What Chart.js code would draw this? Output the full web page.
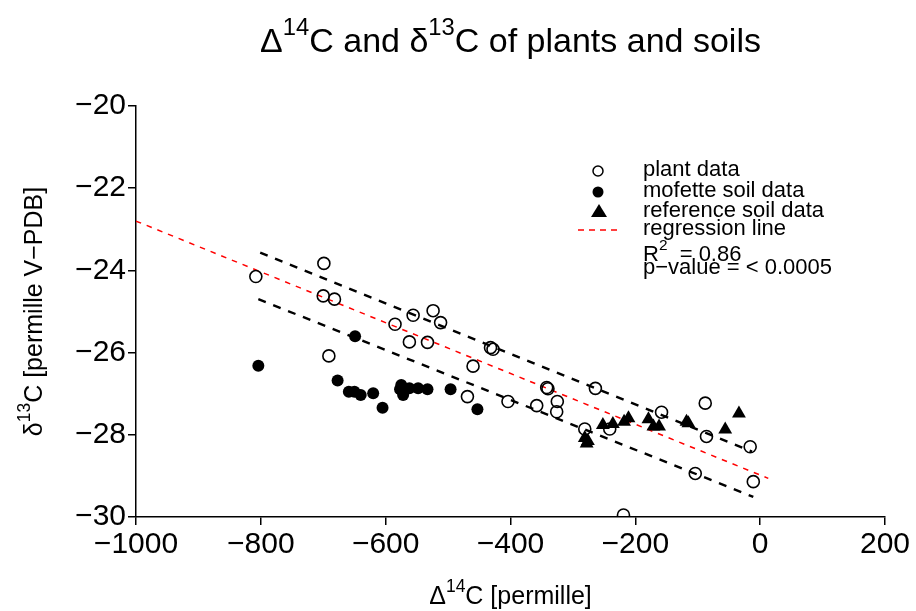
<!DOCTYPE html>
<html>
<head>
<meta charset="utf-8">
<script src="https://cdn.jsdelivr.net/npm/chart.js@4.4.0/dist/chart.umd.min.js"></script>
<style>
  html, body { margin: 0; padding: 0; background: #fff; }
</style>
</head>
<body>
<canvas id="c13Chart" width="916" height="611"></canvas>
<script>
// plant data (open circles)
const plantX = [-808, -699, -700, -682, -691, -585, -556, -524, -512, -562, -533, -432, -428, -460, -469,
                -404, -358, -342, -340, -325, -326, -264, -281, -241, -158, -88, -86, -16, -104, -11, -219];
const plantY = [-24.15, -23.83, -24.62, -24.70, -26.08, -25.31, -25.09, -24.98, -25.27, -25.74, -25.75, -25.88, -25.92, -26.33, -27.07,
                -27.19, -27.29, -26.85, -26.88, -27.19, -27.44, -26.87, -27.86, -27.86, -27.45, -27.23, -28.04, -28.29, -28.94, -29.14, -29.95];

// mofette soil data (filled circles)
const mofetteX = [-804, -649, -677, -659, -650, -640, -620, -605, -575, -577, -572, -562, -548, -533, -496, -453];
const mofetteY = [-26.32, -25.60, -26.68, -26.95, -26.95, -27.03, -26.99, -27.34, -26.79, -26.89, -27.03, -26.87, -26.87, -26.89, -26.89, -27.38];

// reference soil data (triangles)
const refX = [-281, -278, -276, -252, -236, -218, -211, -179, -171, -162, -118, -115, -56, -34];
const refY = [-28.08, -28.21, -28.15, -27.76, -27.74, -27.68, -27.60, -27.62, -27.80, -27.80, -27.68, -27.72, -27.87, -27.48];

// regression line and the two dashed bands (end points)
const regX = [-1000, 13];
const regY = [-22.80, -29.06];
const upperX = [-801, -13];
const upperY = [-23.57, -28.41];
const lowerX = [-804, -11];
const lowerY = [-24.70, -29.51];

const xTicks = [-1000, -800, -600, -400, -200, 0, 200];
const yTicks = [-30, -28, -26, -24, -22, -20];

const FONT = '"Liberation Sans", Arial, Helvetica, sans-serif';

const toPts = (xs, ys) => xs.map((x, i) => ({x: x, y: ys[i]}));
const minus = v => String(v).replace('-', '\u2212');

// text with superscripts: parts = [[text, isSup], ...]
function richText(ctx, parts, size) {
    let w = 0;
    parts.forEach(p => {
        ctx.font = (p[1] ? size * 0.7 : size) + 'px ' + FONT;
        w += ctx.measureText(p[0]).width;
    });
    return w;
}
function drawRich(ctx, parts, x, y, size, align) {
    const w = richText(ctx, parts, size);
    let cx = align === 'center' ? x - w / 2 : x;
    ctx.textBaseline = 'alphabetic';
    ctx.textAlign = 'left';
    parts.forEach(p => {
        const s = p[1] ? size * 0.7 : size;
        ctx.font = s + 'px ' + FONT;
        ctx.fillText(p[0], cx, p[1] ? y - size * 0.5 : y);
        cx += ctx.measureText(p[0]).width;
    });
}

const decorations = {
    id: 'decorations',
    afterDraw(chart) {
        const ctx = chart.ctx;
        const area = chart.chartArea;
        const mid = (area.left + area.right) / 2;
        ctx.save();
        ctx.fillStyle = '#000';

        // title
        drawRich(ctx, [['\u0394', 0], ['14', 1], ['C and \u03b4', 0], ['13', 1], ['C of plants and soils', 0]], mid, 52, 34, 'center');

        // x axis title
        drawRich(ctx, [['\u0394', 0], ['14', 1], ['C [permille]', 0]], mid, 604, 25, 'center');

        // y axis title
        ctx.save();
        ctx.translate(42, (area.top + area.bottom) / 2);
        ctx.rotate(-Math.PI / 2);
        drawRich(ctx, [['\u03b4', 0], ['13', 1], ['C [permille V\u2212PDB]', 0]], 0, 0, 25, 'center');
        ctx.restore();

        // legend
        const sx = 598, tx = 643, fs = 22;
        ctx.font = fs + 'px ' + FONT;
        ctx.textBaseline = 'middle';
        ctx.textAlign = 'left';
        const rows = [170, 191, 211, 229];
        const labels = ['plant data', 'mofette soil data', 'reference soil data', 'regression line'];
        labels.forEach((l, i) => ctx.fillText(l, tx, rows[i]));

        ctx.lineWidth = 1.5;
        ctx.strokeStyle = '#000';
        ctx.beginPath();
        ctx.arc(sx, rows[0] + 1, 5, 0, Math.PI * 2);
        ctx.stroke();
        ctx.beginPath();
        ctx.arc(sx, rows[1] + 1, 5.5, 0, Math.PI * 2);
        ctx.fill();
        ctx.beginPath();
        ctx.moveTo(sx + 1, rows[2] - 7);
        ctx.lineTo(sx + 9, rows[2] + 6);
        ctx.lineTo(sx - 7, rows[2] + 6);
        ctx.closePath();
        ctx.fill();
        ctx.strokeStyle = '#ff0000';
        ctx.setLineDash([6, 5]);
        ctx.beginPath();
        ctx.moveTo(578, rows[3] + 1);
        ctx.lineTo(620, rows[3] + 1);
        ctx.stroke();
        ctx.setLineDash([]);

        drawRich(ctx, [['R', 0], ['2', 1], ['  = 0.86', 0]], tx, 261, fs, 'left');
        ctx.textBaseline = 'middle';
        ctx.font = fs + 'px ' + FONT;
        ctx.fillText('p\u2212value = < 0.0005', tx, 268);
        ctx.restore();
    }
};

const ctx = document.getElementById('c13Chart').getContext('2d');

const c13Chart = new Chart(ctx, {
    type: 'scatter',
    data: {
        datasets: [
            {
                label: 'plant data',
                data: toPts(plantX, plantY),
                pointStyle: 'circle',
                pointRadius: 6,
                pointBorderWidth: 1.6,
                borderColor: '#000',
                backgroundColor: 'rgba(0,0,0,0)'
            },
            {
                label: 'mofette soil data',
                data: toPts(mofetteX, mofetteY),
                pointStyle: 'circle',
                pointRadius: 6,
                pointBorderWidth: 0,
                borderColor: '#000',
                backgroundColor: '#000'
            },
            {
                label: 'reference soil data',
                data: toPts(refX, refY),
                pointStyle: 'triangle',
                pointRadius: 8,
                pointBorderWidth: 0,
                borderColor: '#000',
                backgroundColor: '#000'
            },
            {
                label: 'regression line',
                type: 'line',
                data: toPts(regX, regY),
                borderColor: '#ff0000',
                borderWidth: 1.5,
                borderDash: [5.5, 6],
                pointRadius: 0,
                fill: false
            },
            {
                label: 'upper',
                type: 'line',
                data: toPts(upperX, upperY),
                borderColor: '#000',
                borderWidth: 2.4,
                borderDash: [8, 8],
                pointRadius: 0,
                fill: false
            },
            {
                label: 'lower',
                type: 'line',
                data: toPts(lowerX, lowerY),
                borderColor: '#000',
                borderWidth: 2.4,
                borderDash: [8, 8],
                pointRadius: 0,
                fill: false
            }
        ]
    },
    options: {
        responsive: false,
        animation: false,
        devicePixelRatio: 1,
        layout: { padding: { left: 0, right: 31, top: 106, bottom: 0 } },
        plugins: {
            legend: { display: false },
            title: { display: false },
            tooltip: { enabled: false }
        },
        scales: {
            x: {
                type: 'linear',
                min: -1000,
                max: 200,
                afterFit: s => { s.height = 94; },
                afterBuildTicks: s => { s.ticks = xTicks.map(v => ({value: v})); },
                ticks: {
                    color: '#000',
                    padding: 2,
                    maxRotation: 0,
                    autoSkip: false,
                    font: { family: FONT, size: 30 },
                    callback: v => minus(v)
                },
                grid: { drawOnChartArea: false, drawTicks: true, tickLength: 8, color: '#000', lineWidth: 1.5 },
                border: { display: true, color: '#000', width: 1.5 }
            },
            y: {
                type: 'linear',
                min: -30,
                max: -20,
                afterFit: s => { s.width = 136; },
                afterBuildTicks: s => { s.ticks = yTicks.map(v => ({value: v})); },
                ticks: {
                    color: '#000',
                    padding: 2,
                    autoSkip: false,
                    font: { family: FONT, size: 30 },
                    callback: v => minus(v)
                },
                grid: { drawOnChartArea: false, drawTicks: true, tickLength: 8, color: '#000', lineWidth: 1.5 },
                border: { display: true, color: '#000', width: 1.5 }
            }
        }
    },
    plugins: [decorations]
});
</script>
</body>
</html>
